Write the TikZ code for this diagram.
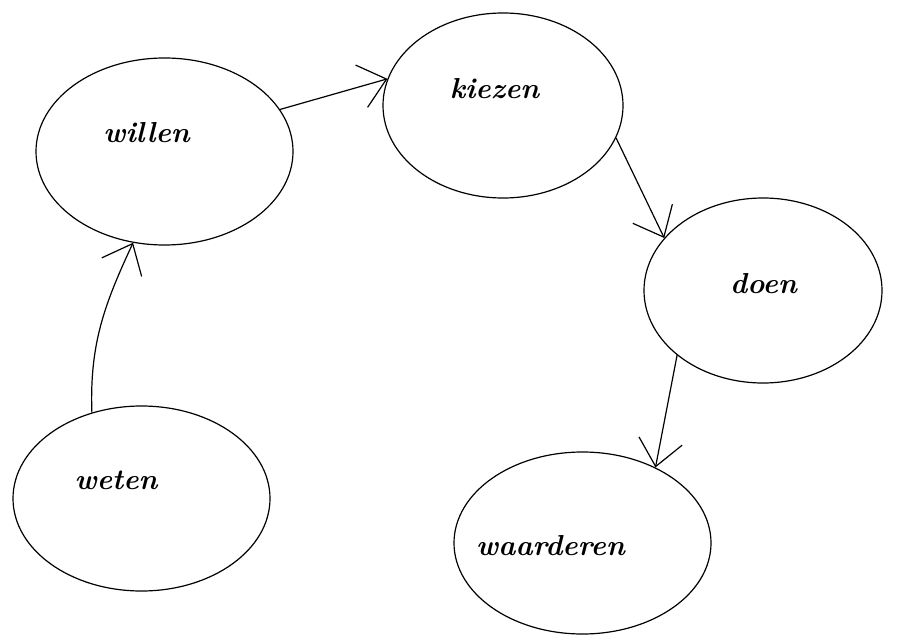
\documentclass[tikz,border=0pt]{standalone}
\usepackage{fontspec}
\usetikzlibrary{shapes.geometric,arrows.meta}

\begin{document}
\begin{tikzpicture}[x=1bp,y=-1bp,line width=1.2bp]

  \useasboundingbox (0,0) rectangle (918,635);

  \begin{scope}[every node/.style={ellipse,draw,inner sep=0pt}]
    \node[minimum width=257bp,minimum height=187bp] (willen)    at (164.5,151.5) {};
    \node[minimum width=240bp,minimum height=185bp] (kiezen)    at (503,105.5)   {};
    \node[minimum width=238bp,minimum height=185bp] (doen)      at (763,290.5)   {};
    \node[minimum width=257bp,minimum height=185bp] (weten)     at (141.5,498.5) {};
    \node[minimum width=257bp,minimum height=182bp] (waarderen) at (582.5,543)   {};
  \end{scope}

  \begin{scope}[every node/.style={anchor=base,font=\fontsize{29}{34}\selectfont\bfseries\itshape}]
    \node (willen-txt)    at (146.5,143) {willen};
    \node (kiezen-txt)    at (494.5,99)  {kiezen};
    \node (doen-txt)      at (763.5,293) {doen};
    \node (weten-txt)     at (116,489)   {weten};
    \node (waarderen-txt) at (550.5,555) {waarderen};
  \end{scope}

  \begin{scope}[every edge/.style={draw,-{Straight Barb[length=26bp,width=44bp]}}]
    \path (willen.20)  edge (kiezen.167);
    \path (kiezen.-16) edge (doen.152);
    \path (doen.217)   edge (waarderen.46);
    \path (weten.120)  edge[out=92,in=-115] (willen.251);
  \end{scope}

\end{tikzpicture}
\end{document}
